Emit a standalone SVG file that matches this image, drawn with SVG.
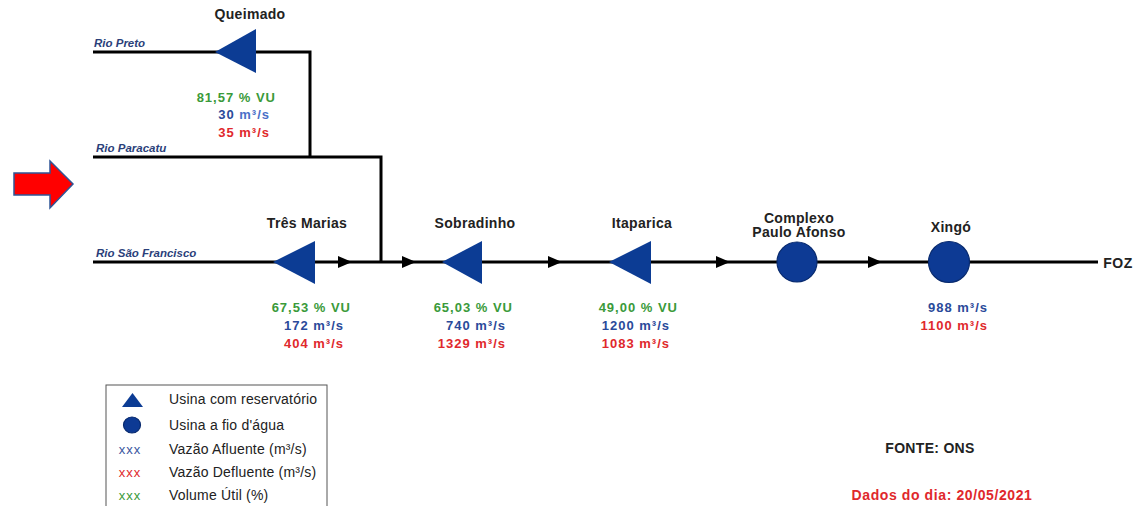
<svg xmlns="http://www.w3.org/2000/svg" width="1134" height="506" viewBox="0 0 1134 506">
<style>
.ln{fill:none;stroke:#000;stroke-width:3;stroke-linejoin:miter}
.ah{fill:#000}
.res{fill:#0c3c94}
.fio{fill:#0d3a94;stroke:#082a6e;stroke-width:1.2}
.ttl{font-family:"Liberation Sans",Arial,sans-serif;font-weight:bold;font-size:14px;letter-spacing:0.3px;fill:#222;text-anchor:middle}
.rio{font-family:"Liberation Sans",Arial,sans-serif;font-weight:bold;font-style:italic;font-size:11.5px;fill:#2b3f7a}
.v{font-family:"Liberation Sans",Arial,sans-serif;font-weight:bold;font-size:13px;letter-spacing:1px;text-anchor:end}
.g{fill:#3a9a3a}
.b{fill:#2a4a9a}
.lb{fill:#4a70c8}
.r{fill:#e0282c}
.lg{font-family:"Liberation Sans",Arial,sans-serif;font-size:14px;letter-spacing:0.2px;fill:#222}
.lx{font-family:"Liberation Sans",Arial,sans-serif;font-size:13px;letter-spacing:1px}
</style>
<defs>
<path id="arr" d="M-7,-6 L7,0 L-7,6 Z"/>
</defs>
<rect width="1134" height="506" fill="#fff"/>

<g id="connectors">
<path class="ln" d="M93,52 H310 V157"/>
<path class="ln" d="M93,157 H381 V262"/>
<path class="ln" d="M93,262 H1098"/>
<use href="#arr" class="ah" x="345" y="262"/>
<use href="#arr" class="ah" x="409" y="262"/>
<use href="#arr" class="ah" x="555" y="262"/>
<use href="#arr" class="ah" x="723" y="262"/>
<use href="#arr" class="ah" x="875" y="262"/>
</g>

<g id="rivers">
<text class="rio" x="94" y="47">Rio Preto</text>
<text class="rio" x="96" y="152">Rio Paracatu</text>
<text class="rio" x="96" y="257">Rio São Francisco</text>
</g>

<g id="pointer">
<path d="M14,173 H50 V161 L73,184 L50,208 V195 H14 Z" fill="#ff0000" stroke="#2f5597" stroke-width="1.5"/>
</g>

<g id="queimado">
<text class="ttl" x="250" y="19">Queimado</text>
<path class="res" d="M215,52 L256,29 L256,73 Z"/>
<text class="v g" x="276" y="102">81,57 % VU</text>
<text class="v" x="270" y="119"><tspan class="b">30 </tspan><tspan class="lb">m³/s</tspan></text>
<text class="v r" x="270" y="137">35 m³/s</text>
</g>

<g id="tres-marias">
<text class="ttl" x="307" y="228">Três Marias</text>
<path class="res" d="M273,262 L315,241 L315,284 Z"/>
<text class="v g" x="351" y="312">67,53 % VU</text>
<text class="v b" x="344" y="330">172 m³/s</text>
<text class="v r" x="344" y="348">404 m³/s</text>
</g>

<g id="sobradinho">
<text class="ttl" x="475" y="228">Sobradinho</text>
<path class="res" d="M442,262 L482,241 L482,284 Z"/>
<text class="v g" x="513" y="312">65,03 % VU</text>
<text class="v b" x="506" y="330">740 m³/s</text>
<text class="v r" x="506" y="348">1329 m³/s</text>
</g>

<g id="itaparica">
<text class="ttl" x="642" y="228">Itaparica</text>
<path class="res" d="M609,262 L651,241 L651,284 Z"/>
<text class="v g" x="678" y="312">49,00 % VU</text>
<text class="v b" x="670" y="330">1200 m³/s</text>
<text class="v r" x="670" y="348">1083 m³/s</text>
</g>

<g id="paulo-afonso">
<text class="ttl" x="799" y="223">Complexo</text>
<text class="ttl" x="799" y="237">Paulo Afonso</text>
<circle class="fio" cx="797" cy="262" r="20"/>
</g>

<g id="xingo">
<text class="ttl" x="951" y="232">Xingó</text>
<circle class="fio" cx="949" cy="262" r="20.5"/>
<text class="v b" x="988" y="312">988 m³/s</text>
<text class="v r" x="988" y="330">1100 m³/s</text>
</g>

<g id="foz">
<text class="ttl" x="1118" y="268" style="letter-spacing:0.5px">FOZ</text>
</g>

<g id="legend">
<rect x="106" y="385" width="221" height="130" fill="none" stroke="#555" stroke-width="1"/>
<path class="res" d="M122,407 L132.5,393 L143,407 Z"/>
<ellipse class="fio" cx="132" cy="425" rx="8.5" ry="8"/>
<text class="lx" x="130" y="454" text-anchor="middle" fill="#3a55a0">xxx</text>
<text class="lx" x="130" y="477" text-anchor="middle" fill="#e0282c">xxx</text>
<text class="lx" x="130" y="500" text-anchor="middle" fill="#3a9a3a">xxx</text>
<text class="lg" x="169" y="404">Usina com reservatório</text>
<text class="lg" x="169" y="430">Usina a fio d'água</text>
<text class="lg" x="169" y="454">Vazão Afluente (m³/s)</text>
<text class="lg" x="169" y="477">Vazão Defluente (m³/s)</text>
<text class="lg" x="169" y="500">Volume Útil (%)</text>
</g>

<g id="notes">
<text class="ttl" x="930" y="453">FONTE: ONS</text>
<text class="ttl" x="942" y="500" style="fill:#e0282c;letter-spacing:0.6px">Dados do dia:  20/05/2021</text>
</g>
</svg>
